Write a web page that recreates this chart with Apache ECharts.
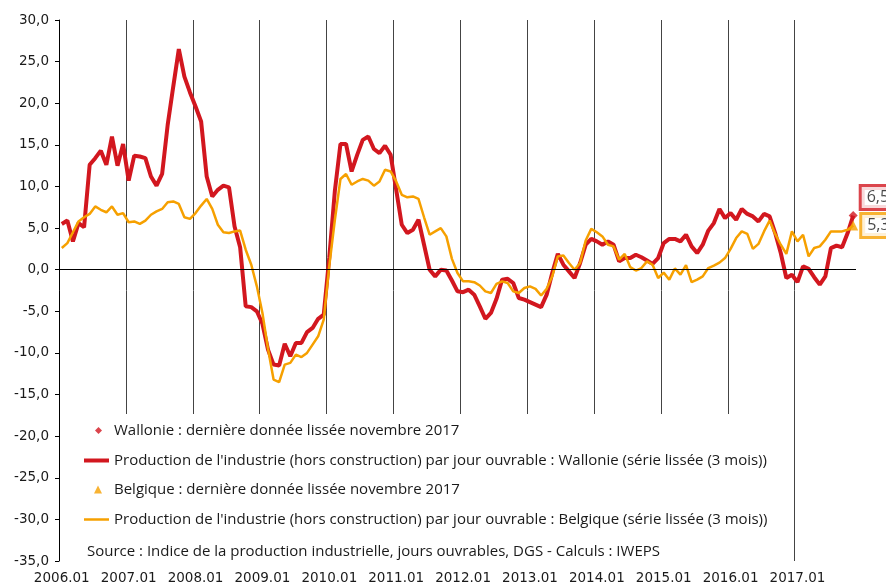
<!DOCTYPE html>
<html lang="fr">
<head>
<meta charset="UTF-8">
<title>Production industrielle - Wallonie / Belgique</title>
<script src="https://cdn.jsdelivr.net/npm/echarts@6.0.0/dist/echarts.min.js"></script>
<style>
    html, body { margin: 0; padding: 0; background: #fff; }
    #chart { width: 886px; height: 588px; }
</style>
</head>
<body>
<div id="chart"></div>
<script>
    // mois de 2006.01 a 2017.11
    let months = [];
    for (let y = 2006; y <= 2017; y++) {
        for (let m = 1; m <= 12; m++) {
            if (y === 2017 && m > 11) break;
            months.push(y + '.' + (m < 10 ? '0' + m : m));
        }
    }

    // Wallonie (serie lissee 3 mois)
    let wallonie = [
        5.5, 5.9, 3.4, 5.6, 5.1, 12.6, 13.4, 14.3, 12.6, 16.0,
        12.5, 15.1, 10.7, 13.7, 13.6, 13.4, 11.2, 10.1, 11.5, 17.4,
        22.0, 26.5, 23.2, 21.3, 19.6, 17.8, 11.2, 8.8, 9.6, 10.1,
        9.9, 5.2, 2.7, -4.4, -4.5, -5.0, -6.5, -9.6, -11.4, -11.5,
        -8.9, -10.4, -8.8, -8.8, -7.5, -7.0, -5.9, -5.4, 1.5, 9.5,
        15.1, 15.1, 11.8, 13.8, 15.6, 16.0, 14.5, 14.0, 14.9, 13.8,
        9.6, 5.4, 4.4, 4.8, 6.0, 3.0, 0.0, -0.8, 0.0, -0.1,
        -1.3, -2.6, -2.7, -2.4, -3.0, -4.4, -5.9, -5.2, -3.5, -1.2,
        -1.1, -1.6, -3.4, -3.6, -3.9, -4.2, -4.5, -3.0, -0.4, 1.9,
        0.6, -0.2, -1.0, 0.8, 3.0, 3.7, 3.4, 3.0, 3.4, 3.0,
        1.0, 1.4, 1.4, 1.8, 1.5, 1.1, 0.7, 1.4, 3.2, 3.7,
        3.7, 3.4, 4.2, 2.8, 2.0, 3.0, 4.7, 5.6, 7.3, 6.2,
        6.8, 6.0, 7.3, 6.7, 6.4, 5.8, 6.7, 6.4, 4.4, 2.0,
        -1.0, -0.6, -1.5, 0.4, 0.1, -0.9, -1.8, -0.8, 2.6, 2.9,
        2.7, 4.4, 6.5
    ];

    // Belgique (serie lissee 3 mois)
    let belgique = [
        2.6, 3.2, 4.5, 5.8, 6.3, 6.7, 7.6, 7.2, 6.9, 7.6,
        6.6, 6.8, 5.7, 5.8, 5.5, 5.9, 6.6, 7.0, 7.3, 8.1,
        8.2, 7.9, 6.3, 6.1, 6.8, 7.7, 8.5, 7.3, 5.4, 4.5,
        4.4, 4.6, 4.7, 2.4, 0.6, -2.0, -5.2, -9.5, -13.2, -13.5,
        -11.4, -11.2, -10.2, -10.5, -10.0, -9.0, -8.0, -6.0, 0.5, 6.0,
        10.9, 11.5, 10.2, 10.6, 10.9, 10.7, 10.1, 10.6, 12.0, 11.8,
        10.6, 9.0, 8.7, 8.8, 8.5, 6.3, 4.2, 4.6, 5.0, 4.0,
        1.3, -0.4, -1.4, -1.4, -1.5, -1.9, -2.6, -2.8, -1.7, -1.4,
        -1.6, -2.6, -2.8, -2.2, -2.0, -2.3, -3.1, -2.3, -0.8, 1.6,
        1.7, 0.8, 0.0, 0.8, 3.5, 4.9, 4.5, 4.0, 3.0, 2.8,
        1.2, 1.9, 0.3, -0.1, 0.2, 1.0, 0.6, -1.0, -0.35, -1.2,
        0.15, -0.6, 0.55, -1.5, -1.2, -0.8, 0.2, 0.5, 0.85, 1.4,
        2.5, 3.8, 4.6, 4.3, 2.5, 3.1, 4.6, 5.9, 4.3, 3.0,
        1.9, 4.6, 3.4, 4.2, 1.6, 2.6, 2.8, 3.6, 4.6, 4.6,
        4.6, 4.8, 5.3
    ];

    let nomPointW = 'Wallonie : dernière donnée lissée novembre 2017';
    let nomSerieW = "Production de l'industrie (hors construction) par jour ouvrable : Wallonie (série lissée (3 mois))";
    let nomPointB = 'Belgique : dernière donnée lissée novembre 2017';
    let nomSerieB = "Production de l'industrie (hors construction) par jour ouvrable : Belgique (série lissée (3 mois))";
    let source = 'Source : Indice de la production industrielle, jours ouvrables, DGS - Calculs : IWEPS';

    const ROUGE = '#d2171f';
    const ORANGE = '#f6a000';
    const FONT = 'Open Sans';
    const FONT_AXE = 'DejaVu Sans';
    const TXT = '#1a1a1a';

    let last = months.length - 1;
    let fmt = v => v.toFixed(1).replace('.', ',');

    // une legende par ligne pour placer chaque symbole comme dans l'original
    function legende(nom, icon, w, h, left, top, pad) {
        return {
            orient: 'vertical', left: left, top: top, padding: 0,
            itemWidth: w, itemHeight: h, selectedMode: false,
            textStyle: { fontSize: 15, color: TXT, fontFamily: FONT, padding: [0, 0, 0, pad] },
            data: [{ name: nom, icon: icon }]
        };
    }

    let chart = echarts.init(document.getElementById('chart'));
    chart.setOption({
        animation: false,
        textStyle: { fontFamily: FONT },
        grid: { left: 59, right: 30, top: 20, bottom: 27 },
        xAxis: {
            type: 'category',
            data: months,
            boundaryGap: true,
            axisLine: { show: false, onZero: false },
            axisTick: { show: false },
            axisLabel: { interval: 11, margin: 10, color: TXT, fontSize: 13.5, fontFamily: FONT_AXE },
            splitLine: { show: true, interval: 11, lineStyle: { color: '#444', width: 1 } }
        },
        yAxis: {
            type: 'value',
            min: -35, max: 30, interval: 5,
            axisLine: { show: true, lineStyle: { color: '#000', width: 1 } },
            axisTick: { show: true, length: 4, lineStyle: { color: '#000' } },
            axisLabel: { formatter: fmt, margin: 10, color: TXT, fontSize: 13.5, fontFamily: FONT_AXE },
            splitLine: { show: false }
        },
        graphic: [
            // cadre blanc de la legende
            {
                type: 'rect', z: 3,
                shape: { x: 62, y: 414, width: 716, height: 147 },
                style: { fill: '#fff' }
            },
            // pas de trait vertical en bout d'axe
            {
                type: 'rect', z: 1,
                shape: { x: 855.5, y: 19, width: 3, height: 543 },
                style: { fill: '#fff' }
            },
            {
                type: 'text', z: 5, left: 87, top: 544,
                style: { text: source, fill: TXT, font: '15px "Open Sans"' }
            }
        ],
        legend: [
            legende(nomPointW, 'diamond', 7, 7, 95, 423, 7),
            legende(nomSerieW, 'rect', 25, 4, 84, 453, 0),
            legende(nomPointB, 'triangle', 8, 8, 94, 482, 7),
            legende(nomSerieB, 'rect', 25, 2.5, 84, 512, 0)
        ],
        series: [
            {
                name: nomSerieW, type: 'line', data: wallonie,
                symbol: 'none', z: 2,
                lineStyle: { color: ROUGE, width: 4 },
                itemStyle: { color: ROUGE },
                markLine: {
                    silent: true, symbol: 'none', label: { show: false },
                    lineStyle: { color: '#000', width: 1, type: 'solid' },
                    data: [{ yAxis: 0 }]
                }
            },
            {
                name: nomSerieB, type: 'line', data: belgique,
                symbol: 'none', z: 3,
                lineStyle: { color: ORANGE, width: 2.5 },
                itemStyle: { color: ORANGE }
            },
            {
                name: nomPointW, type: 'scatter', z: 4,
                data: [[last, wallonie[last]]],
                symbol: 'diamond', symbolSize: 9,
                itemStyle: { color: ROUGE },
                label: {
                    show: true, position: 'right', distance: 4, offset: [0, -18],
                    formatter: p => fmt(p.value[1]),
                    color: TXT, fontSize: 16, fontFamily: FONT,
                    backgroundColor: '#fff', borderColor: ROUGE, borderWidth: 3,
                    padding: [3, 6, 2, 5]
                }
            },
            {
                name: nomPointB, type: 'scatter', z: 4,
                data: [[last, belgique[last]]],
                symbol: 'triangle', symbolSize: 10,
                itemStyle: { color: ORANGE },
                label: {
                    show: true, position: 'right', distance: 4, offset: [0, 0],
                    formatter: p => fmt(p.value[1]),
                    color: TXT, fontSize: 16, fontFamily: FONT,
                    backgroundColor: '#fff', borderColor: ORANGE, borderWidth: 3,
                    padding: [3, 6, 2, 5]
                }
            }
        ]
    });
</script>
</body>
</html>
